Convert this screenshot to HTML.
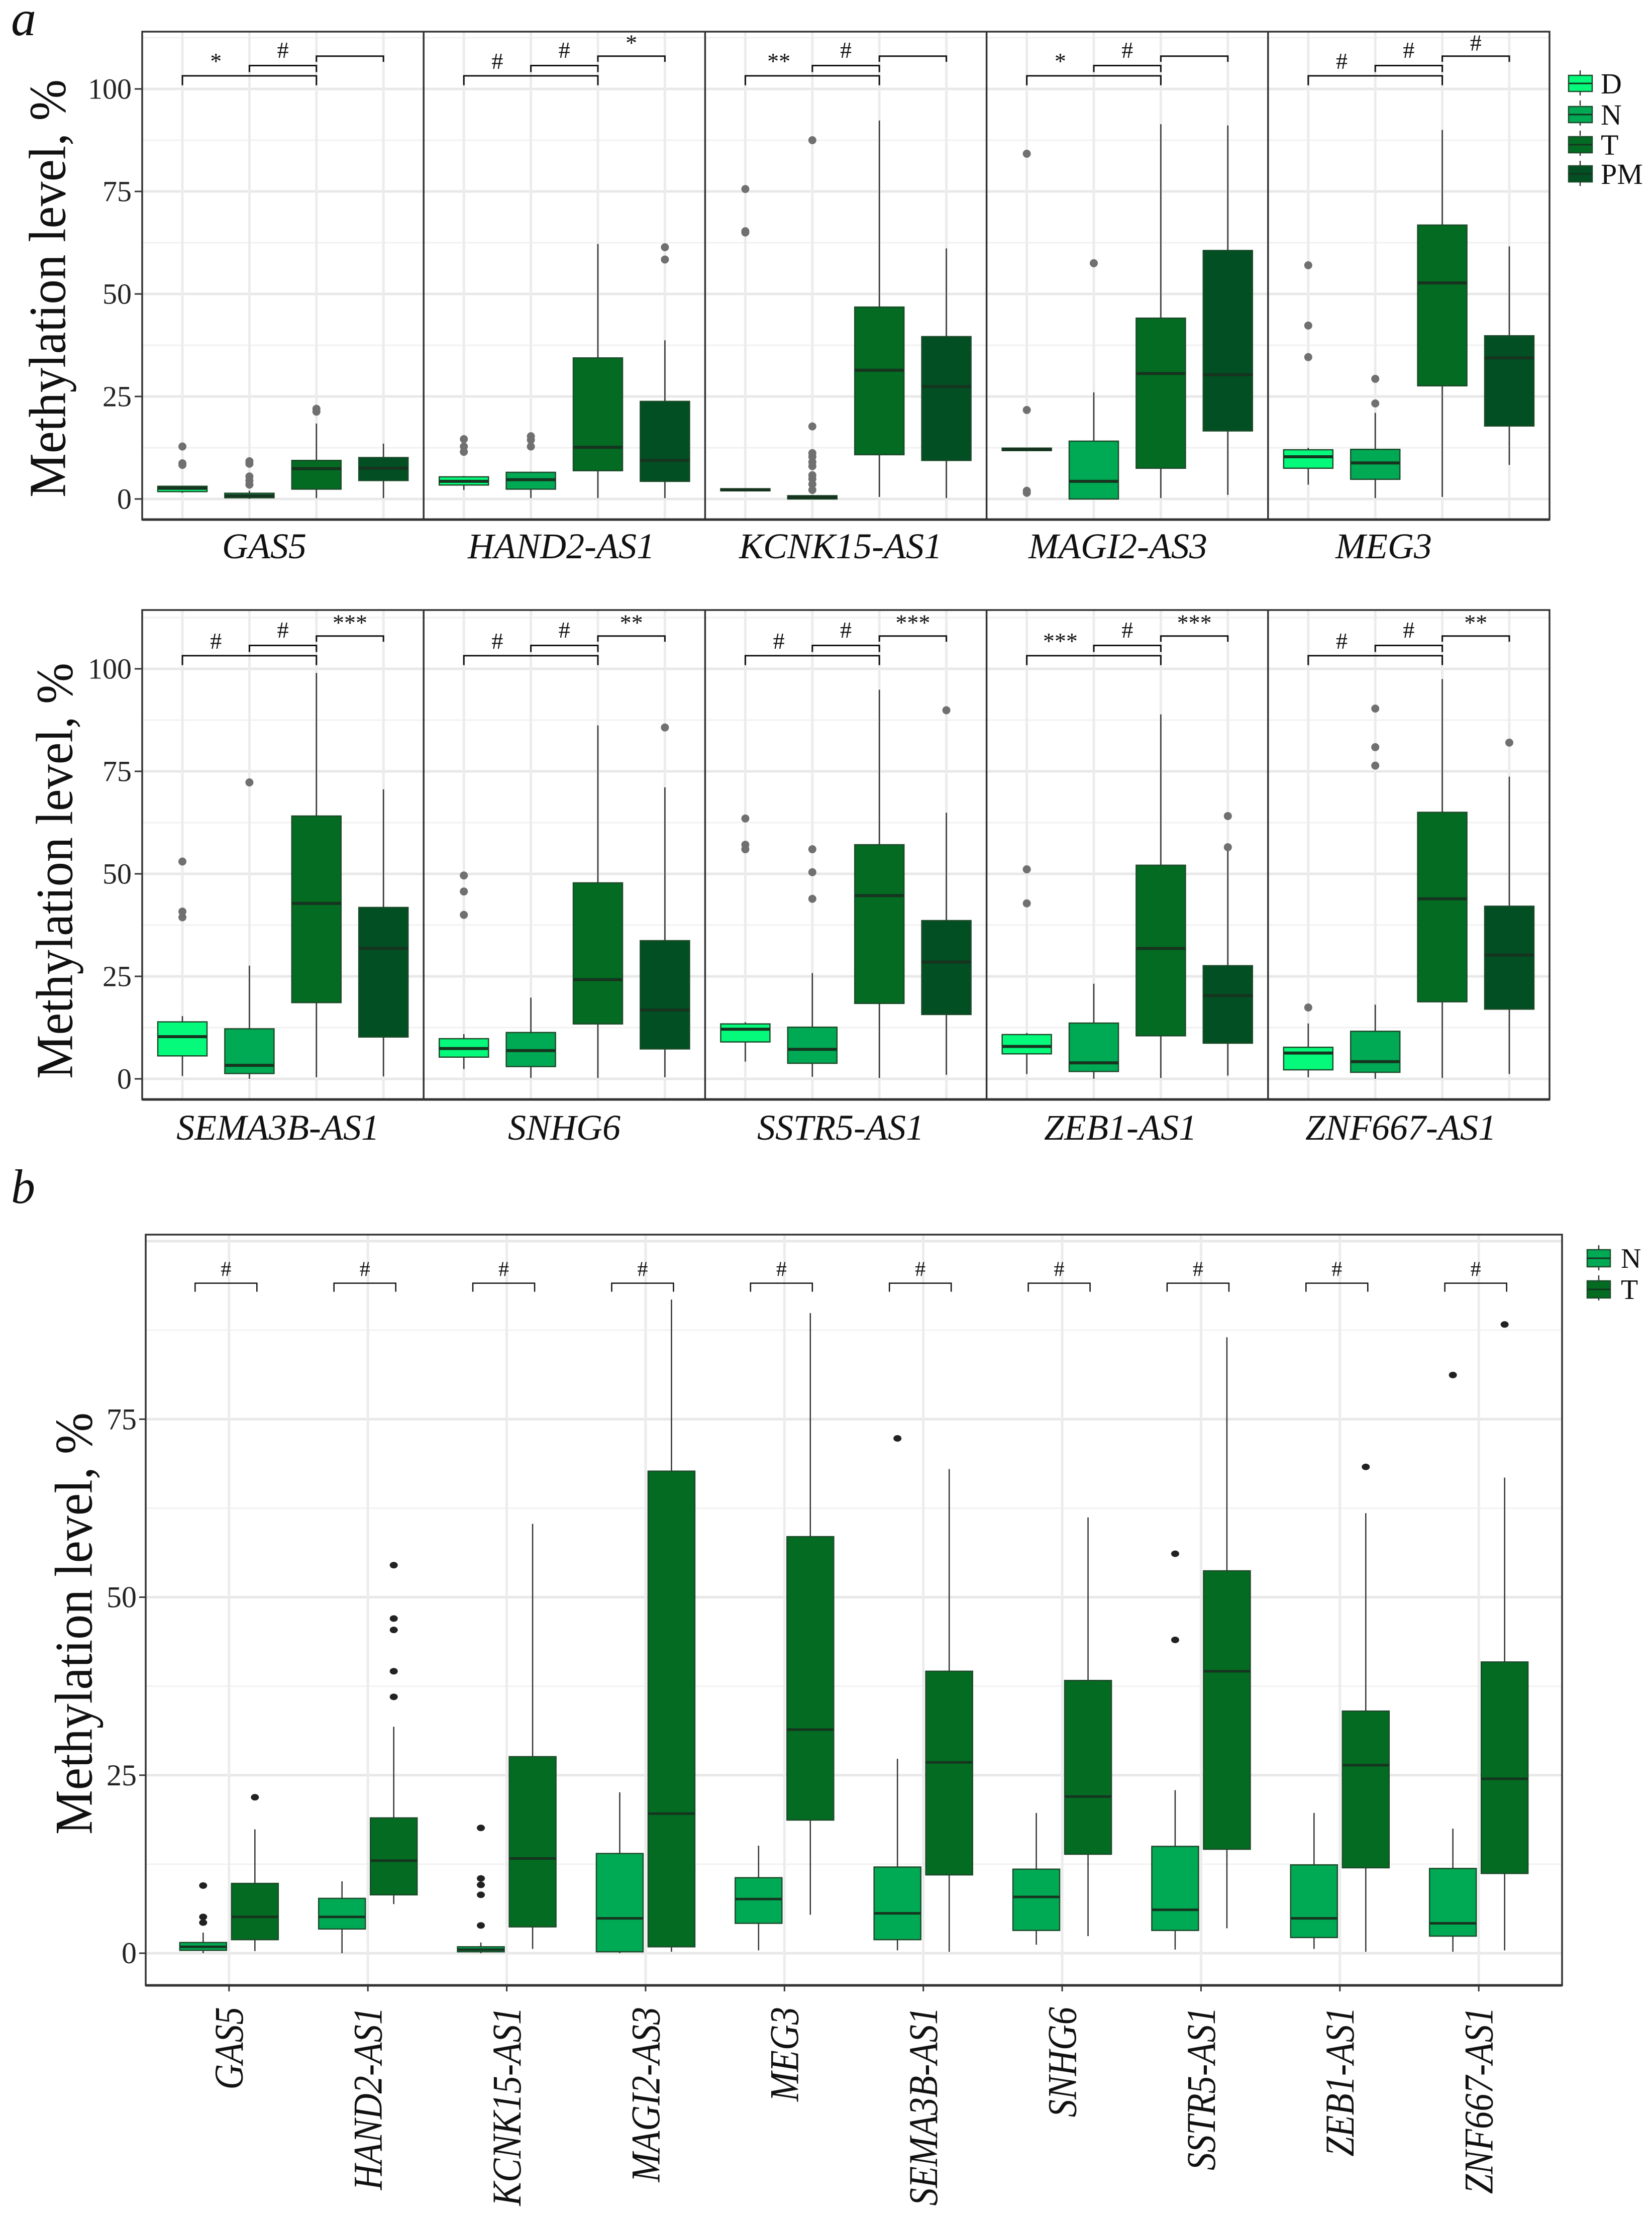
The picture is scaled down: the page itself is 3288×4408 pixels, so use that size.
<!DOCTYPE html>
<html><head><meta charset="utf-8"><style>
html,body{margin:0;padding:0;background:#fff;}
svg{display:block;font-family:"Liberation Serif","Times New Roman",serif;}
svg text{font-family:"Liberation Serif","Times New Roman",serif;}
</style></head><body>
<svg id="chart" xmlns="http://www.w3.org/2000/svg" width="3288" height="4408" viewBox="0 0 3288 4408" font-family="Liberation Serif, serif"></svg>
<script>
// ---------- Panel a data (groups D, N, T, PM) ----------
const groupsA = ["D","N","T","PM"];
const genesRow1 = ["GAS5","HAND2-AS1","KCNK15-AS1","MAGI2-AS3","MEG3"];
const genesRow2 = ["SEMA3B-AS1","SNHG6","SSTR5-AS1","ZEB1-AS1","ZNF667-AS1"];
const yTicksA = [0,25,50,75,100];
const yTicksB = [0,25,50,75];
// each row: per gene, per group [lowWhisker, q1, median, q3, highWhisker]
const statsRow1 = [
 [[1.5,1.8,2.6,3.1,3.2],[0,0.3,0.8,1.4,2],[0.2,2.4,7.4,9.4,18.4],[0.2,4.5,7.5,10.1,13.5]],
 [[2.2,3.4,4.3,5.4,5.6],[0.2,2.4,4.7,6.5,6.6],[0.2,6.9,12.6,34.4,62.2],[0.2,4.3,9.4,23.8,38.7]],
 [[2,2,2.2,2.5,2.5],[0,0,0.4,0.8,1],[0.5,10.8,31.4,46.8,92.3],[0.2,9.4,27.4,39.6,61.1]],
 [[11.8,11.8,12.1,12.4,12.4],[0,0,4.3,14.1,26],[0.2,7.5,30.6,44.1,91.4],[1,16.6,30.3,60.6,91.1]],
 [[3.5,7.5,10.3,12,12.5],[0.2,4.8,8.8,12.1,21],[0.5,27.6,52.7,66.8,90],[8.3,17.8,34.4,39.8,61.6]]
];
const outliersRow1 = [
 [[12.8,8.7,8.3],[9.2,8.6,5.5,4.5,3.5],[22,21.3],[]],
 [[14.6,12.8,11.5],[15.3,14.4,12.8],[],[61.4,58.4]],
 [[75.6,65.3,65],[87.5,17.7,11.2,10.3,9,8,5.8,4.9,3.6,2.2],[],[]],
 [[84.2,21.7,2,1.5],[57.5],[],[]],
 [[57,42.3,34.6],[29.3,23.3],[],[]]
];
const statsRow2 = [
 [[0.7,5.6,10.3,13.9,15.3],[0,1.3,3.3,12.2,27.6],[0.4,18.6,42.8,64.1,99],[0.6,10.2,31.8,41.8,70.6]],
 [[2.4,5.3,7.4,9.8,10.9],[0.2,3,6.9,11.3,19.8],[0.2,13.4,24.2,47.8,86.2],[0.4,7.3,16.8,33.7,71.1]],
 [[4.2,9,12.1,13.4,13.8],[0.5,3.8,7.2,12.6,25.8],[0.2,18.4,44.7,57.1,94.9],[1,15.7,28.5,38.6,64.9]],
 [[1.2,6.1,7.9,10.8,11.2],[0,1.8,3.9,13.6,23.2],[0.2,10.5,31.8,52.1,88.9],[0.8,8.7,20.3,27.6,55.8]],
 [[0.4,2.2,6.3,7.7,13.5],[0,1.6,4.2,11.6,18.1],[0.2,18.8,43.9,65,97.5],[1.2,17,30.2,42.1,73.7]]
];
const outliersRow2 = [
 [[53,40.8,39.4],[72.3],[],[]],
 [[49.6,45.7,40],[],[],[85.7]],
 [[63.5,57.1,56],[56,50.4,43.9],[],[89.9]],
 [[51.1,51.1,42.8],[],[],[64.1,56.5]],
 [[17.4],[90.3,80.9,76.4],[],[82]]
];
const sigRow1 = [["*","#",""],["#","#","*"],["**","#",""],["*","#",""],["#","#","#"]];
const sigRow2 = [["#","#","***"],["#","#","**"],["#","#","***"],["***","#","***"],["#","#","**"]];

// ---------- Panel b data (groups N, T) ----------
const groupsB = ["N","T"];
const genesB = ["GAS5","HAND2-AS1","KCNK15-AS1","MAGI2-AS3","MEG3","SEMA3B-AS1","SNHG6","SSTR5-AS1","ZEB1-AS1","ZNF667-AS1"];
const statsBN = [[0,0.4,0.9,1.5,2.9],[0,3.4,5.1,7.7,10.1],[0,0.2,0.5,0.9,1.5],[0,0.2,4.9,14,22.6],[0.4,4.2,7.6,10.6,15.1],[0.4,1.9,5.6,12.1,27.3],[1.2,3.2,7.9,11.8,19.7],[0.5,3.2,6.1,15,22.9],[0.6,2.2,4.9,12.4,19.7],[0.2,2.4,4.2,11.9,17.5]];
const statsBT = [[0.3,1.9,5.1,9.8,17.4],[6.9,8.2,13,19,31.8],[0.6,3.7,13.3,27.6,60.3],[0.2,0.9,19.6,67.7,91.8],[5.4,18.7,31.4,58.5,89.9],[0.2,11,26.8,39.6,68],[2.4,13.9,22,38.3,61.2],[3.5,14.6,39.6,53.7,86.5],[0.2,12,26.4,34,61.8],[0.4,11.2,24.5,40.9,66.8]];
const outBN = [[9.5,5.1,4.3],[],[17.6,10.5,9.6,8.2,3.9],[],[],[72.3],[],[56.1,44],[],[81.2]];
const outBT = [[21.9],[54.5,47,45.4,39.6,36],[],[],[],[],[],[],[68.3],[88.3]];
const sigB = ["#","#","#","#","#","#","#","#","#","#"];

const colA = {D:"#05fa7b",N:"#00a954",T:"#036b22",PM:"#014f22"};
const colB = {N:"#00a954",T:"#036b22"};

const NS="http://www.w3.org/2000/svg";
const svg=document.getElementById('chart');
const FF='"Liberation Serif", "Times New Roman", serif';
function mk(tag,attrs,parent){const e=document.createElementNS(NS,tag);for(const k in attrs)e.setAttribute(k,attrs[k]);if(tag==='text')e.style.fontFamily=FF;(parent||svg).appendChild(e);return e;}

// ---------- Panel a geometry ----------
const facetLeft0=283, facetW=560.2, unitA=facetW/4.2, boxWA=98;
const rowsA=[{top:63,bottom:1034,y0:993,genes:genesRow1,stats:statsRow1,outs:outliersRow1,sig:sigRow1,labX:[526,1117,1673,2225,2754],labY:1111,title:{x:95,y:574,len:832}},
             {top:1214,bottom:2188,y0:2147,genes:genesRow2,stats:statsRow2,outs:outliersRow2,sig:sigRow2,labX:[553,1123,1673,2230,2788],labY:2268,title:{x:109,y:1733,len:828}}];
const pxA=8.16;

rowsA.forEach((row,ri)=>{
  const yS=v=>row.y0-pxA*v;
  const g=mk('g',{});
  
  
  yTicksA.forEach(t=>{
    const tl=mk('text',{x:262,y:yS(t),'font-size':58,'text-anchor':'end','dominant-baseline':'central',fill:'#222'},g);
    tl.textContent=t;
    
    
    const tk=mk('line',{x1:268,x2:283,y1:yS(t),y2:yS(t),stroke:'#333','stroke-width':3},g);
    
    
  });
  const tt=mk('text',{x:0,y:0,'font-size':104,'text-anchor':'middle','dominant-baseline':'central',fill:'#111',textLength:row.title.len,lengthAdjust:'spacingAndGlyphs',transform:`translate(${row.title.x},${row.title.y}) rotate(-90)`},g);
  tt.textContent='Methylation level, %';
  
  
  row.genes.forEach((gene,fi)=>{
    const fl=facetLeft0+fi*facetW;
    const fg=mk('g',{},g);
    
    
    for(let t=12.5;t<=112.5;t+=12.5){
      if(yS(t)<row.top+3) continue;
      const major=(t%25===0);
      const gl=mk('line',{x1:fl,x2:fl+facetW,y1:yS(t),y2:yS(t),stroke:major?'#e8e8e8':'#f2f2f2','stroke-width':major?5:3},fg);
      
      
    }
    const gl0=mk('line',{x1:fl,x2:fl+facetW,y1:yS(0),y2:yS(0),stroke:'#e8e8e8','stroke-width':5},fg);
    
    
    const cx=i=>fl+(0.6+i)*unitA;
    groupsA.forEach((gr,i)=>{
      const vl=mk('line',{x1:cx(i),x2:cx(i),y1:row.top,y2:row.bottom,stroke:'#ececec','stroke-width':5},fg);
      
      
    });
    groupsA.forEach((gr,i)=>{
      const s=row.stats[fi][i], x=cx(i);
      const w=mk('line',{x1:x,x2:x,y1:yS(s[0]),y2:yS(s[4]),stroke:'#333','stroke-width':2.5},fg);
      
      
      const b=mk('rect',{x:x-boxWA/2,y:yS(s[3]),width:boxWA,height:Math.max(yS(s[1])-yS(s[3]),3),fill:colA[gr],stroke:'#1d4a2a','stroke-width':2.5},fg);
      
      
      const m=mk('line',{x1:x-boxWA/2,x2:x+boxWA/2,y1:yS(s[2]),y2:yS(s[2]),stroke:'#16341f','stroke-width':6},fg);
      
      
      row.outs[fi][i].forEach(o=>{
        const c=mk('circle',{cx:x,cy:yS(o),r:8,fill:'#707070'},fg);
        
        
      });
    });
    const br=[[0,2,103.2,100.9],[1,2,105.7,104.1],[2,3,108,106.6]];
    const labPos=[[0,1,104.9],[1,2,107.6],[2,3,109.4]];
    br.forEach((b,k)=>{
      const p=mk('path',{d:`M${cx(b[0])},${yS(b[3])}V${yS(b[2])}H${cx(b[1])}V${yS(b[3])}`,fill:'none',stroke:'#111','stroke-width':3},fg);
      
      
      const lp=labPos[k];
      if(row.sig[fi][k]){
        const st=mk('text',{x:(cx(lp[0])+cx(lp[1]))/2,y:yS(lp[2]),'font-size':46,'text-anchor':'middle',fill:'#111'},fg);
        st.textContent=row.sig[fi][k];
        
        
      }
    });
    const lab=mk('text',{x:row.labX[fi],y:row.labY,'font-size':72,'font-style':'italic','text-anchor':'middle',fill:'#111'},fg);
    lab.textContent=gene;
    
    
    if(fi>0){
      const dv=mk('line',{x1:fl,x2:fl,y1:row.top,y2:row.bottom,stroke:'#333','stroke-width':3.5},fg);
      
      
    }
  });
  const frame=mk('rect',{x:facetLeft0,y:row.top,width:facetW*5,height:row.bottom-row.top,fill:'none',stroke:'#333','stroke-width':3.5},g);
  
  
  const ax=mk('line',{x1:facetLeft0,x2:facetLeft0+facetW*5,y1:row.bottom,y2:row.bottom,stroke:'#333','stroke-width':5},g);
  
  
});

// legend a
const legA=mk('g',{});


const legAy=[166,228,288,346];
const lv=mk('line',{x1:3145,x2:3145,y1:140,y2:372,stroke:'#333','stroke-width':2.5,'stroke-dasharray':'10,10'},legA);


groupsA.forEach((gr,i)=>{
  const r=mk('rect',{x:3122,y:legAy[i]-16,width:47,height:32,fill:colA[gr],stroke:'#1d4a2a','stroke-width':2.5},legA);
  
  
  const m=mk('line',{x1:3122,x2:3169,y1:legAy[i],y2:legAy[i],stroke:'#16341f','stroke-width':3},legA);
  
  
  const t=mk('text',{x:3186,y:legAy[i]+20,'font-size':58,fill:'#111'},legA);
  t.textContent=gr;
  
  
});

const la=mk('text',{x:22,y:70,'font-size':100,'font-style':'italic',fill:'#111'});
la.textContent='a';


const lb=mk('text',{x:22,y:2394,'font-size':96,'font-style':'italic',fill:'#111'});
lb.textContent='b';



// ---------- Panel b ----------
const bL=290,bR=3109,bT=2457,bB=3951,bY0=3887,pxB=14.17;
const unitB=(bR-bL)/(genesB.length-1+1.2);
const yB=v=>bY0-pxB*v;
const xCat=i=>bL+(0.6+i)*unitB;
const dodge=51.5, boxWB=93;
const gb=mk('g',{});


for(let t=12.5;t<=100;t+=12.5){
  const major=(t%25===0);
  if(yB(t)<bT+3) continue;
  const gl=mk('line',{x1:bL,x2:bR,y1:yB(t),y2:yB(t),stroke:major?'#e8e8e8':'#f2f2f2','stroke-width':major?5:3},gb);
  
  
}
const g0=mk('line',{x1:bL,x2:bR,y1:yB(0),y2:yB(0),stroke:'#e8e8e8','stroke-width':5},gb);


genesB.forEach((gene,i)=>{
  const vl=mk('line',{x1:xCat(i),x2:xCat(i),y1:bT,y2:bB,stroke:'#ececec','stroke-width':5},gb);
  
  
});
yTicksB.forEach(t=>{
  const tl=mk('text',{x:272,y:yB(t),'font-size':60,'text-anchor':'end','dominant-baseline':'central',fill:'#222'},gb);
  tl.textContent=t;
  
  
  const tk=mk('line',{x1:277,x2:290,y1:yB(t),y2:yB(t),stroke:'#333','stroke-width':3},gb);
  
  
});
const ttb=mk('text',{x:0,y:0,'font-size':106,'text-anchor':'middle','dominant-baseline':'central',fill:'#111',textLength:840,lengthAdjust:'spacingAndGlyphs',transform:'translate(147,3231) rotate(-90)'},gb);
ttb.textContent='Methylation level, %';


genesB.forEach((gene,i)=>{
  const cg=mk('g',{},gb);
  
  
  [[statsBN,outBN,'N',-1],[statsBT,outBT,'T',1]].forEach(([st,ou,gr,sd])=>{
    const s=st[i], x=xCat(i)+sd*dodge;
    const w=mk('line',{x1:x,x2:x,y1:yB(s[0]),y2:yB(s[4]),stroke:'#333','stroke-width':2.5},cg);
    
    
    const b=mk('rect',{x:x-boxWB/2,y:yB(s[3]),width:boxWB,height:Math.max(yB(s[1])-yB(s[3]),3),fill:colB[gr],stroke:'#1d4a2a','stroke-width':2.5},cg);
    
    
    const m=mk('line',{x1:x-boxWB/2,x2:x+boxWB/2,y1:yB(s[2]),y2:yB(s[2]),stroke:'#16341f','stroke-width':5},cg);
    
    
    ou[i].forEach(o=>{
      const c=mk('ellipse',{cx:x,cy:yB(o),rx:8,ry:6.5,fill:'#222'},cg);
      
      
    });
  });
  const x1=xCat(i)-dodge-16, x2=xCat(i)+dodge+4;
  const p=mk('path',{d:`M${x1},${yB(92.9)}V${yB(94.1)}H${x2}V${yB(92.9)}`,fill:'none',stroke:'#111','stroke-width':2.5},cg);
  
  
  const sl=mk('text',{x:(x1+x2)/2,y:yB(95.1),'font-size':42,'text-anchor':'middle',fill:'#111'},cg);
  sl.textContent=sigB[i];
  
  
  const tk=mk('line',{x1:xCat(i),x2:xCat(i),y1:bB,y2:bB+12,stroke:'#333','stroke-width':3},cg);
  
  
  const lab=mk('text',{x:0,y:0,'font-size':82,'font-style':'italic','text-anchor':'end','dominant-baseline':'central',fill:'#111',transform:`translate(${xCat(i)},3994) rotate(-90) scale(0.86,1)`},cg);
  lab.textContent=gene;
  
  
});
const fb=mk('rect',{x:bL,y:bT,width:bR-bL,height:bB-bT,fill:'none',stroke:'#333','stroke-width':3.5},gb);


const axb=mk('line',{x1:bL,x2:bR,y1:bB,y2:bB,stroke:'#333','stroke-width':5},gb);



// legend b
const legB=mk('g',{});


const legBy=[2504,2566];
const lvb=mk('line',{x1:3182,x2:3182,y1:2478,y2:2592,stroke:'#333','stroke-width':2.5,'stroke-dasharray':'10,10'},legB);


groupsB.forEach((gr,i)=>{
  const r=mk('rect',{x:3159,y:legBy[i]-17,width:46,height:34,fill:colB[gr],stroke:'#1d4a2a','stroke-width':2.5},legB);
  
  
  const m=mk('line',{x1:3159,x2:3205,y1:legBy[i],y2:legBy[i],stroke:'#16341f','stroke-width':3},legB);
  
  
  const t=mk('text',{x:3226,y:legBy[i]+19,'font-size':56,fill:'#111'},legB);
  t.textContent=gr;
  
  
});
</script>
</body></html>
